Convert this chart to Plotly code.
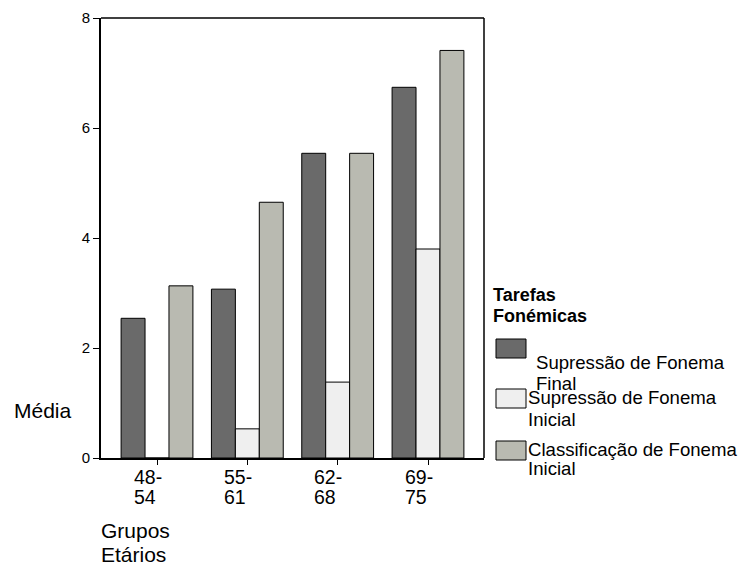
import plotly.graph_objects as go

groups = ["48-54", "55-61", "62-68", "69-75"]
tick_lines = [["48-", "54"], ["55-", "61"], ["62-", "68"], ["69-", "75"]]
series_names = ["Supressão de Fonema Final", "Supressão de Fonema Inicial", "Classificação de Fonema Inicial"]
legend_lines = [["Supressão de Fonema", "Final"], ["Supressão de Fonema", "Inicial"], ["Classificação de Fonema", "Inicial"]]
sup_final = [2.54, 3.07, 5.54, 6.74]
sup_inicial = [0.0, 0.53, 1.38, 3.80]
class_inicial = [3.13, 4.65, 5.54, 7.41]
colors = ["#6a6a6a", "#efefef", "#b9bab1"]
y_ticks = [0, 2, 4, 6, 8]

FONT = "Arial, Liberation Sans, sans-serif"
W, H = 739, 566
L, R, T, B = 101, 484, 18, 458
pw, ph = R - L, B - T

def px(x):
    return (x - L) / pw

def py(y):
    return (B - y) / ph

fig = go.Figure()
xs = list(range(len(groups)))
for name, vals, col in zip(series_names, [sup_final, sup_inicial, class_inicial], colors):
    fig.add_trace(go.Bar(x=xs, y=vals, name=name, marker=dict(color=col, line=dict(color="black", width=1)),
                         showlegend=False))

fig.update_layout(
    width=W, height=H,
    margin=dict(l=L, r=W - R, t=T, b=H - B, pad=0, autoexpand=False),
    paper_bgcolor="white", plot_bgcolor="white",
    barmode="group", bargap=0.205, bargroupgap=0,
    font=dict(family=FONT, size=18, color="black"),
    xaxis=dict(range=[-0.62, 3.62], tickvals=xs, showticklabels=False, ticks="outside", ticklen=5,
               tickwidth=1, tickcolor="black", showline=True, linecolor="black", linewidth=2,
               showgrid=False, zeroline=False, fixedrange=True),
    yaxis=dict(range=[0, 8], tickvals=y_ticks, ticktext=[str(v) for v in y_ticks], ticks="outside",
               ticklen=6, tickwidth=1, tickcolor="black", showline=True, linecolor="black", linewidth=2,
               showgrid=False, zeroline=False, tickfont=dict(size=15), fixedrange=True),
)

# top and right frame
fig.add_shape(type="line", xref="paper", yref="paper", x0=0, x1=1, y0=1, y1=1, line=dict(color="black", width=1.5))
fig.add_shape(type="line", xref="paper", yref="paper", x0=1, x1=1, y0=0, y1=1, line=dict(color="black", width=1.5))

ann = []
# x tick labels
for i, lines in enumerate(tick_lines):
    for j, t in enumerate(lines):
        ann.append(dict(x=i, y=0, xref="x", yref="paper", xshift=-25.5, yshift=-(19 + 20 * j),
                        xanchor="left", yanchor="middle", text=t, showarrow=False, font=dict(size=19.5)))
# axis titles
ann.append(dict(x=px(12), y=py(410), xref="paper", yref="paper", xanchor="left", yanchor="middle",
                text="Média", showarrow=False, font=dict(size=21)))
ann.append(dict(x=px(99), y=py(530), xref="paper", yref="paper", xanchor="left", yanchor="middle",
                text="Grupos", showarrow=False, font=dict(size=21)))
ann.append(dict(x=px(99), y=py(554), xref="paper", yref="paper", xanchor="left", yanchor="middle",
                text="Etários", showarrow=False, font=dict(size=21)))
# legend title
ann.append(dict(x=px(491), y=py(295), xref="paper", yref="paper", xanchor="left", yanchor="middle",
                text="<b>Tarefas</b>", showarrow=False, font=dict(size=18)))
ann.append(dict(x=px(491), y=py(316), xref="paper", yref="paper", xanchor="left", yanchor="middle",
                text="<b>Fonémicas</b>", showarrow=False, font=dict(size=18)))

# legend swatches and labels
sw_top = [339, 389, 441]
txt_pos = [(534, 362, 383), (526, 397, 419), (526, 449, 469)]
for k in range(3):
    fig.add_shape(type="rect", xref="paper", yref="paper", x0=px(496), x1=px(526),
                  y0=py(sw_top[k] + 19), y1=py(sw_top[k]), fillcolor=colors[k],
                  line=dict(color="black", width=1))
    xk, y1, y2 = txt_pos[k]
    for t, yy in zip(legend_lines[k], [y1, y2]):
        ann.append(dict(x=px(xk), y=py(yy), xref="paper", yref="paper", xanchor="left", yanchor="middle",
                        text=t, showarrow=False, font=dict(size=18.6)))

fig.update_layout(annotations=ann)
fig.write_html("out.html", config={"displayModeBar": False},
               post_script="document.body.style.margin='0px';document.body.style.overflow='hidden';")
